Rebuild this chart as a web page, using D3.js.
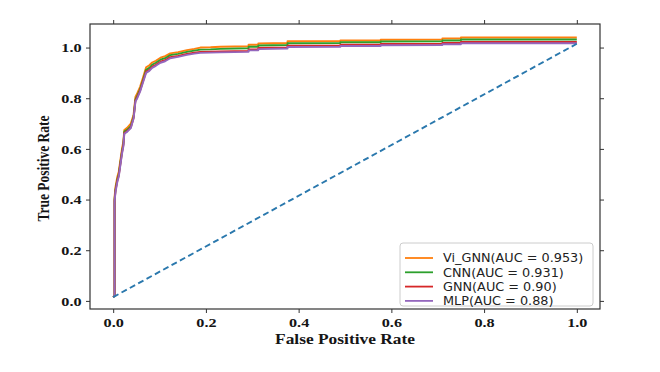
<!DOCTYPE html>
<html>
<head>
<meta charset="utf-8">
<script src="https://cdn.jsdelivr.net/npm/d3@7"></script>
<style>
  body { margin: 0; background: #fff; }
  svg { display: block; }
  .tick text { font-family: "Liberation Serif", "Times New Roman", serif; font-weight: bold; font-size: 13.5px; fill: #151515; }
  .legend text { font-family: "DejaVu Sans", sans-serif; font-size: 12px; fill: #222; }
</style>
</head>
<body>
<div id="viz"></div>
<script>
// false positive rate points shared by all curves
const fpr = [0, 0.003, 0.003, 0.005, 0.009, 0.012, 0.019, 0.022, 0.024, 0.03, 0.038, 0.044, 0.046, 0.048, 0.052,
  0.058, 0.064, 0.071, 0.078, 0.084, 0.092, 0.102, 0.112, 0.123, 0.14, 0.159, 0.175, 0.188, 0.21, 0.231,
  0.292, 0.292, 0.313, 0.313, 0.376, 0.376, 0.49, 0.49, 0.577, 0.577, 0.71, 0.71, 0.75, 0.75, 1.0];

const tprViGnn = [0.015, 0.02, 0.41, 0.45, 0.49, 0.51, 0.60, 0.63, 0.675, 0.683, 0.70, 0.735, 0.77, 0.805, 0.82,
  0.845, 0.88, 0.922, 0.93, 0.941, 0.948, 0.96, 0.966, 0.977, 0.982, 0.99, 0.995, 1.0, 1.001, 1.003,
  1.005, 1.011, 1.011, 1.016, 1.018, 1.025, 1.026, 1.028, 1.028, 1.031, 1.032, 1.036, 1.036, 1.040, 1.040];
const tprCnn = [0.015, 0.02, 0.40, 0.44, 0.48, 0.50, 0.59, 0.62, 0.668, 0.675, 0.69, 0.727, 0.76, 0.795, 0.81,
  0.835, 0.87, 0.912, 0.92, 0.932, 0.94, 0.952, 0.958, 0.97, 0.975, 0.983, 0.988, 0.992, 0.993, 0.995,
  0.997, 1.003, 1.003, 1.008, 1.010, 1.017, 1.018, 1.021, 1.021, 1.024, 1.025, 1.028, 1.028, 1.032, 1.032];
const tprGnn = [0.015, 0.02, 0.395, 0.435, 0.475, 0.495, 0.585, 0.615, 0.663, 0.67, 0.685, 0.722, 0.755, 0.79, 0.805,
  0.83, 0.865, 0.905, 0.912, 0.924, 0.932, 0.944, 0.95, 0.962, 0.967, 0.975, 0.98, 0.983, 0.984, 0.985,
  0.987, 0.993, 0.993, 0.998, 1.0, 1.007, 1.008, 1.011, 1.011, 1.014, 1.015, 1.018, 1.018, 1.022, 1.022];
const tprMlp = [0.015, 0.02, 0.39, 0.43, 0.47, 0.49, 0.58, 0.61, 0.66, 0.667, 0.682, 0.72, 0.752, 0.787, 0.8,
  0.826, 0.86, 0.9, 0.908, 0.92, 0.928, 0.94, 0.946, 0.958, 0.963, 0.971, 0.976, 0.979, 0.98, 0.981,
  0.983, 0.989, 0.989, 0.994, 0.996, 1.002, 1.003, 1.006, 1.006, 1.009, 1.01, 1.013, 1.013, 1.017, 1.017];

const seriesNames = ["Vi_GNN(AUC = 0.953)", "CNN(AUC = 0.931)", "GNN(AUC = 0.90)", "MLP(AUC = 0.88)"];
const seriesTpr = [tprViGnn, tprCnn, tprGnn, tprMlp];
const seriesColors = ["#ff7f0e", "#2ca02c", "#d62728", "#9467bd"];

// chance line
const chanceX = [0, 1];
const chanceY = [0.015, 1.015];

const xTicks = [0, 0.2, 0.4, 0.6, 0.8, 1.0];
const yTicks = [0, 0.2, 0.4, 0.6, 0.8, 1.0];

const W = 660, H = 372;
const box = { left: 90, right: 600, top: 24, bottom: 309 };
const STRETCH = 1.2; // the source picture is a bit wider than tall

const svg = d3.select("#viz").append("svg").attr("width", W).attr("height", H);

const x = d3.scaleLinear().domain([-0.05, 1.05]).range([box.left, box.right]);
const y = d3.scaleLinear().domain([-0.032, 1.093]).range([box.bottom, box.top]);

const line = d3.line().x((d) => x(d[0])).y((d) => y(d[1]));

const plot = svg.append("g");

seriesTpr.forEach((tpr, i) => {
  plot.append("path")
    .datum(fpr.map((f, j) => [f, tpr[j]]))
    .attr("d", line)
    .attr("fill", "none")
    .attr("stroke", seriesColors[i])
    .attr("stroke-width", 1.9)
    .attr("stroke-linejoin", "round");
});

plot.append("path")
  .datum(chanceX.map((v, j) => [v, chanceY[j]]))
  .attr("d", line)
  .attr("fill", "none")
  .attr("stroke", "#2a78ad")
  .attr("stroke-width", 1.9)
  .attr("stroke-dasharray", "6,3.5");

function styleAxis(g) {
  g.select(".domain").remove();
  g.selectAll(".tick line").attr("stroke", "#333").attr("stroke-width", 1);
}

svg.append("g").attr("transform", `translate(0,${box.bottom})`)
  .call(d3.axisBottom(x).tickValues(xTicks).tickFormat(d3.format(".1f")).tickSize(4).tickPadding(4))
  .call(styleAxis)
  .selectAll(".tick text").attr("transform", `scale(${STRETCH},1)`);
svg.append("g").attr("transform", `translate(${box.left},0)`)
  .call(d3.axisLeft(y).tickValues(yTicks).tickFormat(d3.format(".1f")).tickSize(4).tickPadding(3))
  .call(styleAxis)
  .selectAll(".tick text").attr("transform", `scale(${STRETCH},1)`);
svg.append("g").attr("transform", `translate(0,${box.top})`)
  .call(d3.axisTop(x).tickValues(xTicks).tickFormat("").tickSize(4))
  .call(styleAxis);
svg.append("g").attr("transform", `translate(${box.right},0)`)
  .call(d3.axisRight(y).tickValues(yTicks).tickFormat("").tickSize(4))
  .call(styleAxis);

svg.append("rect")
  .attr("x", box.left).attr("y", box.top)
  .attr("width", box.right - box.left).attr("height", box.bottom - box.top)
  .attr("fill", "none").attr("stroke", "#333").attr("stroke-width", 1.2);

svg.append("text")
  .attr("transform", `translate(345,344) scale(${STRETCH},1)`)
  .attr("text-anchor", "middle")
  .style("font-family", "'Liberation Serif', serif").style("font-weight", "bold").style("font-size", "14.5px")
  .attr("fill", "#151515")
  .text("False Positive Rate");

svg.append("text")
  .attr("transform", `translate(49,${(box.top + box.bottom) / 2 + 2}) scale(${STRETCH},1) rotate(-90)`)
  .attr("text-anchor", "middle")
  .style("font-family", "'Liberation Serif', serif").style("font-weight", "bold").style("font-size", "13.5px")
  .attr("fill", "#151515")
  .text("True Positive Rate");

// legend
const legend = svg.append("g").attr("class", "legend");
legend.append("rect")
  .attr("x", 400).attr("y", 243).attr("width", 193).attr("height", 63).attr("rx", 3)
  .attr("fill", "#fff").attr("fill-opacity", 0.85).attr("stroke", "#ccc");
seriesNames.forEach((name, i) => {
  const ry = 258 + i * 14.3;
  legend.append("line").attr("x1", 405).attr("x2", 433).attr("y1", ry).attr("y2", ry)
    .attr("stroke", seriesColors[i]).attr("stroke-width", 1.8);
  legend.append("text")
    .attr("transform", `translate(443,${ry + 4.3}) scale(1.07,1)`)
    .text(name);
});
</script>
</body>
</html>
